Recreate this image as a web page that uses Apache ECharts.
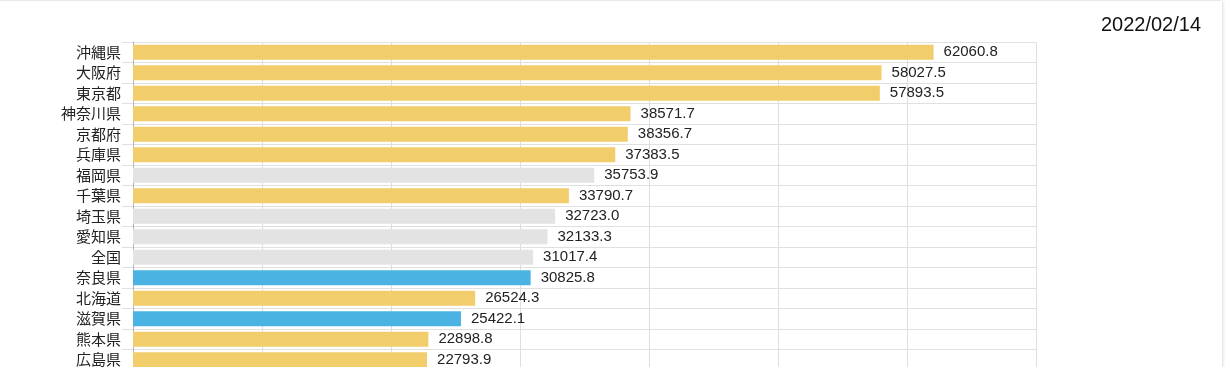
<!DOCTYPE html>
<html>
<head>
<meta charset="utf-8">
<script src="https://cdn.jsdelivr.net/npm/echarts@6/dist/echarts.min.js"></script>
<style>
html,body{margin:0;padding:0;background:#fff;overflow:hidden;width:1228px;height:367px;}
#card{position:absolute;left:-8px;top:1px;width:1230px;height:420px;background:#fff;box-shadow:0 0 4px rgba(0,0,0,0.22);}
#chart{position:absolute;left:8px;top:-1px;width:1228px;height:370px;}
</style>
</head>
<body>
<div id="card"><div id="chart"></div></div>
<script>
const dateLabel = '2022/02/14';
const categories = ['沖縄県','大阪府','東京都','神奈川県','京都府','兵庫県','福岡県','千葉県','埼玉県','愛知県','全国','奈良県','北海道','滋賀県','熊本県','広島県'];
const values = [62060.8,58027.5,57893.5,38571.7,38356.7,37383.5,35753.9,33790.7,32723.0,32133.3,31017.4,30825.8,26524.3,25422.1,22898.8,22793.9];
const groups = ['y','y','y','y','y','y','g','y','g','g','g','b','y','b','y','y'];
const groupColors = {y:'#f2cd6b', g:'#e3e3e3', b:'#4ab3e2'};
const xTicks = {min:0, max:70000, interval:10000};

const chart = echarts.init(document.getElementById('chart'));
const font = '"Liberation Sans", Arial, "Noto Sans CJK JP", sans-serif';
chart.setOption({
  animation:false,
  textStyle:{fontFamily:font},
  title:{text:dateLabel, right:22, top:10, textStyle:{fontSize:20, fontWeight:'normal', color:'#111', fontFamily:font}},
  grid:{left:133, top:42, right:192, bottom:0},
  xAxis:{type:'value', min:xTicks.min, max:xTicks.max, interval:xTicks.interval,
    axisLabel:{show:false}, axisLine:{show:false}, axisTick:{show:false},
    splitLine:{show:true, lineStyle:{color:'#dedede', width:1}}},
  yAxis:{type:'category', inverse:true, data:categories,
    axisLine:{show:true, lineStyle:{color:'#b5b5b5', width:1}},
    axisTick:{show:true, length:11, lineStyle:{color:'#e0e0e0'}},
    splitLine:{show:true, lineStyle:{color:'#e0e0e0', width:1}},
    axisLabel:{margin:12, fontSize:15, color:'#222', fontFamily:'"Noto Sans CJK JP", sans-serif'}},
  series:[{type:'bar', barCategoryGap:'28%',
    data:values.map((v,i)=>({value:v, itemStyle:{color:groupColors[groups[i]]}})),
    label:{show:true, position:'right', distance:10, fontSize:15, color:'#222', fontFamily:font,
      formatter:p=>p.value.toFixed(1)}}]
});
</script>
</body>
</html>
